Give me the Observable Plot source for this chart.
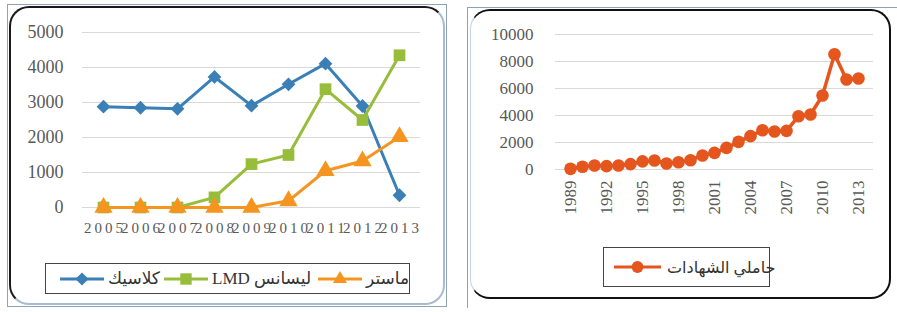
<!DOCTYPE html>
<html>
<head>
<meta charset="utf-8">
<script src="https://cdn.jsdelivr.net/npm/d3@7"></script>
<script src="https://cdn.jsdelivr.net/npm/@observablehq/plot@0.6"></script>
<style>
  html, body { margin: 0; padding: 0; background: #fff; }
  #page { position: relative; width: 897px; height: 312px; overflow: hidden; background: #fff; }
  .abs { position: absolute; }
  .sel { position: absolute; border: 1.5px solid #8FA3B8; }
  .frameL { position: absolute; left: 9px; top: 6px; width: 432px; height: 295px; border-radius: 20px;
            border: 2.5px solid; border-color: #1a1a1a #A8BBCF #A8BBCF #1a1a1a; }
  .frameR { position: absolute; left: 470px; top: 9px; width: 418px; height: 286px; border-radius: 20px;
            border: 2.5px solid; border-color: #111 #111 #111 #C2D4E6; border-left-width: 1.5px; }
  .legend { position: absolute; border: 1.5px solid #444; background: #fff; color: #333; }
  .item { position: absolute; top: 0; height: 100%; display: flex; align-items: center; white-space: nowrap; }
  .item svg { display: block; }
  .ltxt { font-family: 'Liberation Serif', 'DejaVu Sans', serif; font-size: 17px; }
</style>
</head>
<body>
<div id="page">
  <div class="sel" style="left:7px; top:4px; width:438px; height:301px;"></div>
  <div class="frameL"></div>
  <div class="sel" style="left:467px; top:7px; width:432px; height:300px; border-right:none; border-bottom:none;"></div>
  <div class="frameR"></div>
  <div id="left" class="abs" style="left:0; top:0;"></div>
  <div id="right" class="abs" style="left:460px; top:0;"></div>
  <div id="legL" class="legend" style="left:45px; top:263px; width:363px; height:29px;"></div>
  <div id="legR" class="legend" style="left:603px; top:247px; width:165px; height:38px;"></div>
</div>
<script>
// ---------- data (left chart) ----------
const yearsL = ["2005", "2006", "2007", "2008", "2009", "2010", "2011", "2012", "2013"];
const classic = [2880, 2850, 2820, 3730, 2910, 3520, 4110, 2900, 350];
const lmd     = [0, 0, 0, 290, 1240, 1500, 3380, 2500, 4350];
const master  = [0, 0, 0, 0, 0, 190, 1050, 1330, 2020];
const yTicksL = [0, 1000, 2000, 3000, 4000, 5000];
const seriesNames = ["كلاسيك", "ليسانس LMD", "ماستر"];

// ---------- data (right chart) ----------
const yearsR = [1989, 1990, 1991, 1992, 1993, 1994, 1995, 1996, 1997, 1998, 1999, 2000, 2001,
                2002, 2003, 2004, 2005, 2006, 2007, 2008, 2009, 2010, 2011, 2012, 2013];
const graduates = [50, 200, 300, 250, 300, 400, 600, 670, 450, 540, 690, 1040, 1230,
                   1600, 2050, 2470, 2910, 2810, 2860, 3950, 4070, 5480, 8540, 6670, 6740];
const yTicksR = [0, 2000, 4000, 6000, 8000, 10000];
const xTicksR = [1989, 1992, 1995, 1998, 2001, 2004, 2007, 2010, 2013];
const rightName = "حاملي الشهادات";

const cBlue = "#3A7FB6", cGreen = "#98BD3A", cOrange = "#F5951F", cRed = "#E4561E";
const serif = "'Liberation Serif', 'DejaVu Serif', serif";
const tickColor = "#595959";

const mk = (vals) => yearsL.map((y, i) => ({year: y, value: vals[i]}));
const dClassic = mk(classic), dLmd = mk(lmd), dMaster = mk(master);

const left = Plot.plot({
  width: 450, height: 250,
  marginLeft: 82, marginRight: 30, marginTop: 32, marginBottom: 43,
  style: {background: "transparent", overflow: "visible"},
  x: {type: "point", domain: yearsL, padding: 0.5, axis: null},
  y: {domain: [0, 5000], axis: null},
  marks: [
    Plot.ruleY(yTicksL, {stroke: "#D9D9D9", strokeWidth: 1.2}),
    Plot.text(yTicksL, {y: d => d, text: d => String(d), frameAnchor: "left", dx: -19, textAnchor: "end",
      fontFamily: serif, fontSize: 18, fill: tickColor}),
    Plot.text(yearsL, {x: d => d, y: () => 0, text: d => d, dy: 21, dx: 1.5, fontFamily: serif, fontSize: 15,
      fill: tickColor}),
    Plot.line(dClassic, {x: "year", y: "value", stroke: cBlue, strokeWidth: 3}),
    Plot.dot(dClassic, {x: "year", y: "value", symbol: "diamond2", r: 6.2, fill: cBlue}),
    Plot.line(dLmd, {x: "year", y: "value", stroke: cGreen, strokeWidth: 3}),
    Plot.dot(dLmd, {x: "year", y: "value", symbol: "square", r: 6.6, fill: cGreen}),
    Plot.line(dMaster, {x: "year", y: "value", stroke: cOrange, strokeWidth: 3}),
    Plot.dot(dMaster, {x: "year", y: "value", symbol: "triangle", r: 6.8, fill: cOrange})
  ]
});
document.getElementById("left").appendChild(left);
// letter-spaced x labels, as in the reference
d3.select(left).selectAll("text").filter(function() { return yearsL.includes(this.textContent); })
  .attr("letter-spacing", "3px");

const dR = yearsR.map((y, i) => ({year: y, value: graduates[i]}));
const right = Plot.plot({
  width: 437, height: 240,
  marginLeft: 95, marginRight: 24, marginTop: 34, marginBottom: 71,
  style: {background: "transparent", overflow: "visible"},
  x: {type: "point", domain: yearsR, padding: 0.5, axis: null},
  y: {domain: [0, 10000], axis: null},
  marks: [
    Plot.ruleY(yTicksR, {stroke: "#D9D9D9", strokeWidth: 1.2}),
    Plot.text(yTicksR, {y: d => d, text: d => String(d), frameAnchor: "left", dx: -22, textAnchor: "end",
      fontFamily: serif, fontSize: 17, fill: tickColor}),
    Plot.text(xTicksR, {x: d => d, y: () => 0, text: d => String(d), rotate: -90, textAnchor: "end", dy: 11,
      fontFamily: serif, fontSize: 17, fill: tickColor}),
    Plot.line(dR, {x: "year", y: "value", stroke: cRed, strokeWidth: 3.5}),
    Plot.dot(dR, {x: "year", y: "value", symbol: "circle", r: 6.3, fill: cRed})
  ]
});
document.getElementById("right").appendChild(right);

// ---------- legends (HTML, markers via d3 symbols) ----------
function markerSvg(color, symbolType, size, w) {
  const s = d3.create("svg").attr("width", w).attr("height", 18);
  s.append("line").attr("x1", 0).attr("x2", w).attr("y1", 9).attr("y2", 9)
    .attr("stroke", color).attr("stroke-width", 3);
  s.append("path").attr("d", d3.symbol(symbolType, size)())
    .attr("transform", `translate(${w / 2},9)`).attr("fill", color);
  return s.node();
}
const legL = document.getElementById("legL");
const itemsL = [
  {left: 14, color: cBlue, sym: d3.symbolDiamond2, size: 110, name: seriesNames[0]},
  {left: 118, color: cGreen, sym: d3.symbolSquare, size: 130, name: seriesNames[1]},
  {left: 272, color: cOrange, sym: d3.symbolTriangle2, size: 140, name: seriesNames[2]}
];
for (const it of itemsL) {
  const div = document.createElement("div");
  div.className = "item";
  div.style.left = it.left + "px";
  div.appendChild(markerSvg(it.color, it.sym, it.size, 44));
  const t = document.createElement("span");
  t.textContent = it.name;
  t.className = "ltxt";
  t.style.marginLeft = "4px";
  t.setAttribute("dir", "rtl");
  div.appendChild(t);
  legL.appendChild(div);
}
const legR = document.getElementById("legR");
{
  const div = document.createElement("div");
  div.className = "item";
  div.style.left = "10px";
  div.appendChild(markerSvg(cRed, d3.symbolCircle, 110, 47));
  const t = document.createElement("span");
  t.textContent = rightName;
  t.className = "ltxt";
  t.style.marginLeft = "6px";
  t.style.fontSize = "16px";
  t.setAttribute("dir", "rtl");
  div.appendChild(t);
  legR.appendChild(div);
}
</script>
</body>
</html>
